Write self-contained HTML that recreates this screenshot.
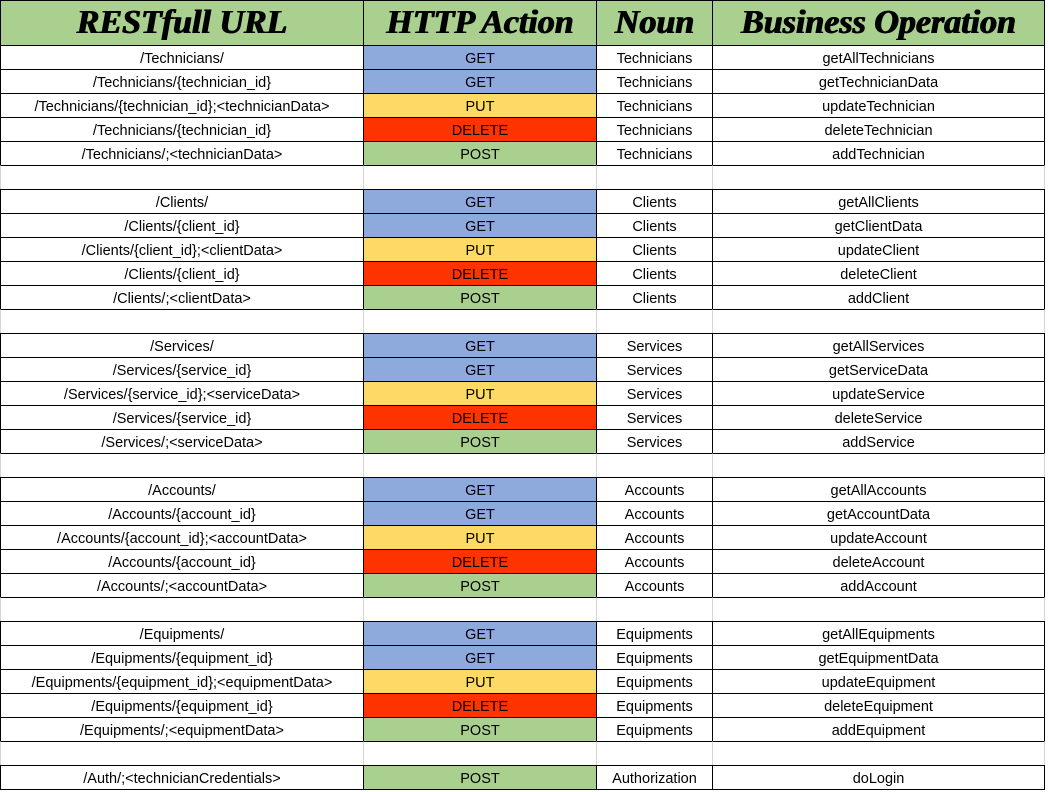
<!DOCTYPE html>
<html><head><meta charset="utf-8"><style>
body{margin:0;width:1048px;height:792px;background:#fff;position:relative;overflow:hidden;font-family:"Liberation Sans",sans-serif}
.c{position:absolute;box-sizing:border-box;display:flex;align-items:center;justify-content:center;font-size:14.5px;color:#000;white-space:nowrap;padding-top:2px}
.h{font-family:"Liberation Serif",serif;font-weight:bold;font-style:italic;font-size:34px;background:#a9d08e;border:1px solid #000;text-shadow:0.7px 0 0 #000,-0.5px 0 0 #000;padding-top:0}
</style></head><body>
<script>
const headers=["RESTfull URL","HTTP Action","Noun","Business Operation"];
const cols=[1,364,597,713,1045];
const groups=[["Technicians","technician"],["Clients","client"],["Services","service"],["Accounts","account"],["Equipments","equipment"]];
const colors={GET:"#8ea9db",PUT:"#ffd966",DELETE:"#ff3300",POST:"#a9d08e"};
const rows=[];
groups.forEach(([N,s],i)=>{
 const S=s.charAt(0).toUpperCase()+s.slice(1);
 rows.push(["/"+N+"/","GET",N,"getAll"+N]);
 rows.push(["/"+N+"/{"+s+"_id}","GET",N,"get"+S+"Data"]);
 rows.push(["/"+N+"/{"+s+"_id};<"+s+"Data>","PUT",N,"update"+S]);
 rows.push(["/"+N+"/{"+s+"_id}","DELETE",N,"delete"+S]);
 rows.push(["/"+N+"/;<"+s+"Data>","POST",N,"add"+S]);
 rows.push(null);
});
rows.push(["/Auth/;<technicianCredentials>","POST","Authorization","doLogin"]);
function cell(x,y,w,h,txt,cls,bg,border){
 const d=document.createElement('div');
 d.className='c '+cls;
 d.style.cssText=`left:${x}px;top:${y}px;width:${w}px;height:${h}px;`+(bg?`background:${bg};`:'')+(border||'');
 d.textContent=txt;
 
 
 document.body.appendChild(d);
}
headers.forEach((t,i)=>cell(cols[i]-1,0,cols[i+1]-cols[i]+1,46,t,'h',null,''));
rows.forEach((r,ri)=>{
 const y=45+ri*24;
 for(let i=0;i<4;i++){
  const x=cols[i]-1,w=cols[i+1]-cols[i]+1;
  if(r){cell(x,y,w,25,r[i],'',i==1?colors[r[1]]:null,'border:1px solid #000;');}
  else{cell(x,y,w,25,'','',null,'border:1px solid #d4d4d4;border-top:1px solid #000;border-bottom:1px solid #000;');}
 }
});
</script>
</body></html>
